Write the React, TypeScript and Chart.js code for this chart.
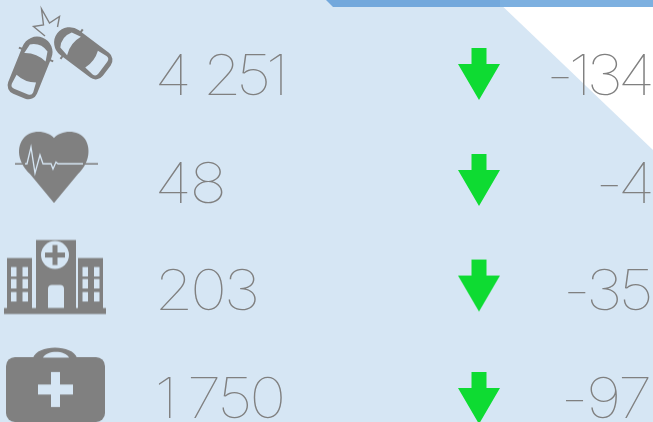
import React, { useEffect, useRef } from "react";
import { Chart, registerables } from "chart.js";
Chart.register(...registerables);

const categories = ["Crashes", "Deaths", "Hospitalized", "Treated"];
const values = ["4 251", "48", "203", "1 750"];
const changes = ["-134", "-4", "-35", "-97"];
const arrowRows = [0, 0.984, 1.964, 3.008];
const rows = [0, 1, 2, 3];

const W = 653, H = 422;
const ROW0 = 74, ROW_STEP = 107.7;
const BG = "#D6E6F4", GRAY = "#808080", GREEN = "#0EDB32";
const FONT = '100 56px "Inter"';
const TEXT_STRETCH = 1.12;
const valueTracking = [-5, -2, -3, -3];
const valueWordSpacing = [4, 0, 0, -1.3];
const changeTracking = [-4.6, -4.6, -3.5, -2];

function makeCanvas(size: number, draw: (c: CanvasRenderingContext2D) => void) {
  const cv = document.createElement("canvas");
  cv.width = size; cv.height = size;
  draw(cv.getContext("2d")!);
  return cv;
}

function poly(c: CanvasRenderingContext2D, pts: number[][]) {
  c.beginPath();
  pts.forEach((p, i) => (i ? c.lineTo(p[0], p[1]) : c.moveTo(p[0], p[1])));
}

function car(c: CanvasRenderingContext2D, x: number, y: number, angle: number, L: number, Wd: number) {
  const hw = Wd / 2, hl = L / 2;
  c.save();
  c.translate(x, y); c.rotate(angle * Math.PI / 180);
  c.fillStyle = GRAY;
  c.beginPath();
  c.roundRect(-hw, -hl, Wd, L, [hw, hw, 9, 9]);
  c.fill();
  c.fillRect(-hw - 3, -hl + 17, 4, 2);
  c.fillRect(hw - 1, -hl + 17, 4, 2);
  c.fillStyle = BG;
  // windscreen
  c.beginPath();
  c.moveTo(-hw + 4, -hl + 21);
  c.lineTo(-hw + 6, -hl + 11);
  c.quadraticCurveTo(0, -hl + 5, hw - 6, -hl + 11);
  c.lineTo(hw - 4, -hl + 21);
  c.quadraticCurveTo(0, -hl + 16, -hw + 4, -hl + 21);
  c.fill();
  // rear window
  c.beginPath();
  c.moveTo(-hw + 5, hl - 19);
  c.quadraticCurveTo(0, hl - 15, hw - 5, hl - 19);
  c.lineTo(hw - 4, hl - 9);
  c.quadraticCurveTo(hw - 4, hl - 5, hw - 8, hl - 5);
  c.lineTo(-hw + 8, hl - 5);
  c.quadraticCurveTo(-hw + 4, hl - 5, -hw + 4, hl - 9);
  c.fill();
  c.restore();
}

const iconDrawers = [
  (c: CanvasRenderingContext2D) => {
    car(c, 31, 67, 22, 63, 31);
    car(c, 82, 52, -53, 62, 31);
    c.strokeStyle = GRAY; c.lineWidth = 1.4;
    poly(c, [[57.5, 27], [59.5, 16.5], [49.5, 23], [41.5, 9], [43.5, 25], [33.5, 26.5], [45, 36]]);
    c.stroke();
  },
  (c: CanvasRenderingContext2D) => {
    c.fillStyle = GRAY;
    c.fillRect(15, 163, 83, 1.6);
    c.beginPath();
    c.moveTo(54, 138);
    c.bezierCurveTo(47, 130, 30, 129, 23, 139);
    c.bezierCurveTo(15, 150, 20, 165, 30, 174);
    c.lineTo(54, 203);
    c.lineTo(78, 174);
    c.bezierCurveTo(88, 165, 92, 150, 85, 139);
    c.bezierCurveTo(78, 129, 61, 130, 54, 138);
    c.fill();
    c.strokeStyle = BG; c.lineWidth = 1.3;
    poly(c, [[25, 163.7], [27, 163.7], [31, 147], [35, 173], [40, 155], [43, 163.7], [51, 163.7], [53, 169], [56, 162], [58, 163.7], [83, 163.7]]);
    c.stroke();
  },
  (c: CanvasRenderingContext2D) => {
    c.fillStyle = GRAY;
    c.fillRect(36, 240, 40, 70);
    c.fillRect(7, 258, 25, 52);
    c.fillRect(78, 258, 25, 52);
    c.fillRect(4, 308, 102, 6);
    c.fillStyle = BG;
    c.beginPath(); c.arc(55, 255, 14, 0, Math.PI * 2); c.fill();
    c.beginPath(); c.roundRect(48, 285, 16, 23, [4, 4, 0, 0]); c.fill();
    for (const x of [11, 22.5, 82.5, 94]) for (const y of [267, 279, 292]) c.fillRect(x, y, 5.5, 9.5);
    c.fillStyle = GRAY;
    c.fillRect(45, 252.5, 20, 5);
    c.fillRect(52.5, 245, 5, 20);
  },
  (c: CanvasRenderingContext2D) => {
    c.fillStyle = GRAY;
    c.beginPath();
    c.moveTo(33, 358); c.bezierCurveTo(37, 344, 73, 344, 77, 358); c.fill();
    c.beginPath(); c.roundRect(6, 357, 99, 65, 9); c.fill();
    c.fillStyle = BG;
    c.beginPath();
    c.moveTo(43, 357.5); c.bezierCurveTo(47, 350, 65, 350, 69, 357.5); c.fill();
    c.fillRect(51, 372, 9, 35);
    c.fillRect(38, 384.5, 35, 10);
  },
];

function iconCanvas(i: number) {
  const size = 170;
  const rowY = ROW0 + ROW_STEP * rows[i];
  return makeCanvas(size, (c) => {
    c.translate(size / 2 - 55, size / 2 - rowY);
    iconDrawers[i](c);
  });
}

function arrowCanvas() {
  const size = 60;
  return makeCanvas(size, (c) => {
    c.translate(size / 2, size / 2);
    c.fillStyle = GREEN;
    poly(c, [[-7.5, -26], [7.5, -26], [7.5, -10], [21, -10], [0, 26], [-21, -10], [-7.5, -10]]);
    c.closePath(); c.fill();
  });
}

const backdrop = {
  id: "backdrop",
  beforeDraw(chart: any) {
    const c = chart.ctx;
    c.save();
    c.fillStyle = BG; c.fillRect(0, 0, W, H);
    c.fillStyle = "#FFFFFF";
    poly(c, [[496, 0], [653, 0], [653, 150]]); c.closePath(); c.fill();
    c.fillStyle = "#73A8DC";
    poly(c, [[326, 0], [500, 0], [507, 7], [333, 7]]); c.closePath(); c.fill();
    c.fillStyle = "#7DB0E0";
    c.fillRect(500, 0, 153, 7);
    poly(c, [[500, 0], [507, 7], [500, 7]]); c.closePath(); c.fill();
    c.restore();
  },
};

const textLabels = {
  id: "textLabels",
  afterDatasetsDraw(chart: any) {
    const c = chart.ctx;
    c.save();
    c.font = FONT;
    c.fillStyle = GRAY;
    c.textBaseline = "alphabetic";
    chart.data.datasets.forEach((ds: any, di: number) => {
      if (!ds.texts) return;
      c.textAlign = ds.align;
      chart.getDatasetMeta(di).data.forEach((pt: any, i: number) => {
        c.letterSpacing = ds.tracking[i] + "px";
        c.wordSpacing = (ds.wordSpacing ? ds.wordSpacing[i] : 0) + "px";
        c.save();
        c.translate(pt.x, pt.y + 21);
        c.scale(TEXT_STRETCH, 1);
        c.fillText(ds.texts[i], 0, 0);
        c.restore();
      });
    });
    c.restore();
  },
};

export default function App() {
  const ref = useRef<HTMLCanvasElement>(null);
  useEffect(() => {
    document.body.style.margin = "0";
    const arrow = arrowCanvas();
    const chart = new Chart(ref.current!, {
      type: "scatter",
      data: {
        labels: categories,
        datasets: [
          { label: "icons", data: rows.map((r) => ({ x: 55, y: r })), pointStyle: rows.map(iconCanvas), clip: false } as any,
          { label: "arrows", data: arrowRows.map((r) => ({ x: 479, y: r })), pointStyle: arrow, clip: false } as any,
          { label: "values", data: rows.map((r) => ({ x: 154.5, y: r })), pointRadius: 0, texts: values, align: "left", tracking: valueTracking, wordSpacing: valueWordSpacing } as any,
          { label: "changes", data: rows.map((r) => ({ x: 650, y: r })), pointRadius: 0, texts: changes, align: "right", tracking: changeTracking } as any,
        ],
      },
      options: {
        animation: false,
        responsive: false,
        layout: { padding: 0, autoPadding: false },
        plugins: { legend: { display: false }, tooltip: { enabled: false } },
        scales: {
          x: { type: "linear", display: false, min: 0, max: W },
          y: { type: "linear", display: false, reverse: true, min: -ROW0 / ROW_STEP, max: (H - ROW0) / ROW_STEP },
        },
      },
      plugins: [backdrop, textLabels],
    });
    return () => chart.destroy();
  }, []);
  return <canvas ref={ref} width={W} height={H} style={{ display: "block", width: W, height: H }} />;
}
